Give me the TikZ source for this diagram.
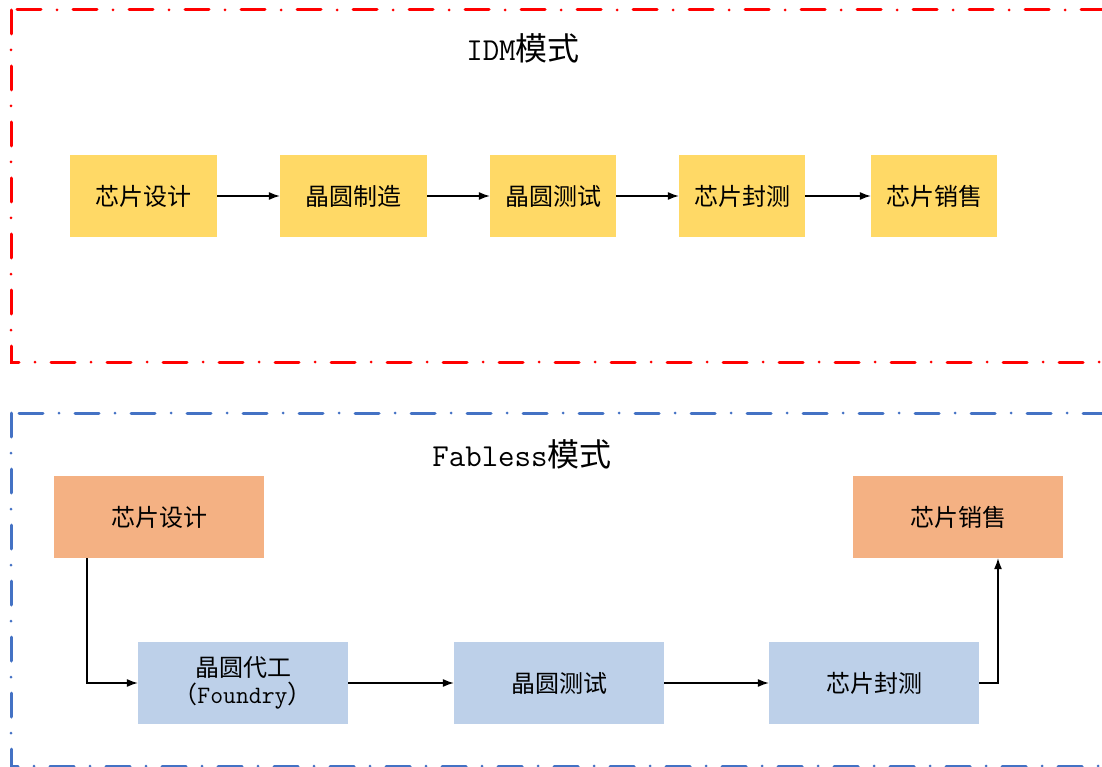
\documentclass[tikz,border=0pt]{standalone}
\usepackage{fontspec}
\setmainfont{Latin Modern Mono}
\newfontfamily\cjk{Noto Sans CJK SC}
\usetikzlibrary{arrows.meta}
\definecolor{idmred}{HTML}{FF0000}
\definecolor{fabblue}{HTML}{4472C4}
\definecolor{stepyellow}{HTML}{FFD966}
\definecolor{steporange}{HTML}{F4B183}
\definecolor{steplblue}{HTML}{BDD0E9}
\tikzset{
  frame/.style={line width=3pt,line cap=round,
    dash pattern=on 24pt off 16pt on 0pt off 16pt},
  stepbox/.style={minimum height=82pt,inner sep=0pt,align=center,
    font=\fontsize{24}{30}\selectfont\cjk},
  flow/.style={-{Latex[length=11pt,width=8pt]},line width=1.2pt},
  title/.style={font=\fontsize{32}{36}\selectfont}
}
\begin{document}
\begin{tikzpicture}[x=1pt,y=-1pt]
  \clip (0,0) rectangle (1102,767);
  \useasboundingbox (0,0) rectangle (1102,767);
  % IDM frame
  \draw[frame,idmred] (11,10) rectangle (1130,362);
  \node[title] (idm) at (523,48) {IDM{\cjk 模式}};
  \node[stepbox,fill=stepyellow,minimum width=147pt] (idm1) at (143.5,196) {芯片设计};
  \node[stepbox,fill=stepyellow,minimum width=147pt] (idm2) at (353.5,196) {晶圆制造};
  \node[stepbox,fill=stepyellow,minimum width=126pt] (idm3) at (553,196) {晶圆测试};
  \node[stepbox,fill=stepyellow,minimum width=126pt] (idm4) at (742,196) {芯片封测};
  \node[stepbox,fill=stepyellow,minimum width=126pt] (idm5) at (934,196) {芯片销售};
  \foreach \a/\b in {idm1/idm2,idm2/idm3,idm3/idm4,idm4/idm5}
    \draw[flow] (\a) -- (\b);
  % Fabless frame
  \draw[frame,fabblue] (11,413) rectangle (1130,766);
  \node[title] (fab) at (522,454) {Fabless{\cjk 模式}};
  \node[stepbox,fill=steporange,minimum width=210pt] (design) at (159,517) {芯片设计};
  \node[stepbox,fill=steporange,minimum width=210pt] (sales) at (958,517) {芯片销售};
  \node[stepbox,fill=steplblue,minimum width=210pt] (foundry) at (243,683)
    {晶圆代工\\[-3pt]{（\fontsize{25}{28}\selectfont\rmfamily Foundry\cjk）}};
  \node[stepbox,fill=steplblue,minimum width=210pt] (test) at (559,683) {晶圆测试};
  \node[stepbox,fill=steplblue,minimum width=210pt] (pack) at (874,683) {芯片封测};
  \coordinate (c1) at (87,683);
  \coordinate (c2) at (998,683);
  \draw[flow] (design.south -| c1) -- (c1) -- (foundry.west);
  \draw[flow] (foundry) -- (test);
  \draw[flow] (test) -- (pack);
  \draw[flow] (pack.east) -- (c2) -- (sales.south -| c2);
\end{tikzpicture}
\end{document}
